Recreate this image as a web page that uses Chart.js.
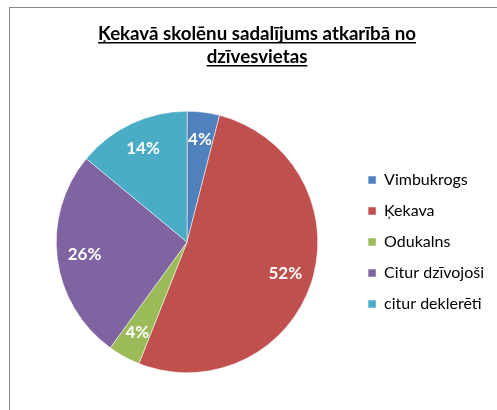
<!DOCTYPE html>
<html>
<head>
<meta charset="utf-8">
<script src="https://cdn.jsdelivr.net/npm/chart.js@4/dist/chart.umd.min.js"></script>
<style>
  html, body { margin: 0; padding: 0; background: #fff; }
  #wrap { width: 497px; height: 410px; position: relative; }
</style>
</head>
<body>
<div id="wrap"><canvas id="pieChart"></canvas></div>
<script>
const labels = ['Vimbukrogs', 'Ķekava', 'Odukalns', 'Citur dzīvojoši', 'citur deklerēti'];
const shares = [4, 52, 4, 26, 14];
const colors = ['#4F81BD', '#C0504D', '#9BBB59', '#8064A2', '#4BACC6'];
const titleLines = ['Ķekavā skolēnu sadalījums atkarībā no', 'dzīvesvietas'];

// frame + underlined title
const frame = {
    id: 'frame',
    beforeDraw(chart) {
        const c = chart.ctx;
        c.save();
        c.strokeStyle = '#868686';
        c.lineWidth = 1;
        c.strokeRect(9.5, 7.5, 600, 600);
        c.restore();
    },
    afterDraw(chart) {
        const c = chart.ctx;
        c.save();
        c.font = 'bold 18.7px Lato';
        c.fillStyle = '#000';
        c.textAlign = 'center';
        c.textBaseline = 'alphabetic';
        const ys = [40, 63];
        titleLines.forEach((t, i) => {
            c.fillText(t, 257, ys[i]);
            const w = c.measureText(t).width;
            c.fillRect(257 - w / 2, ys[i] + 2, w, 1.5);
        });
        c.restore();
    }
};

// percent labels inside slices
const sliceLabels = {
    id: 'sliceLabels',
    afterDatasetsDraw(chart) {
        const c = chart.ctx;
        const meta = chart.getDatasetMeta(0);
        c.save();
        c.font = 'bold 17px Lato';
        c.fillStyle = '#fff';
        c.textAlign = 'center';
        c.textBaseline = 'middle';
        meta.data.forEach((arc, i) => {
            const mid = (arc.startAngle + arc.endAngle) / 2;
            const r = arc.outerRadius * 0.79;
            c.fillText(shares[i] + '%', arc.x + Math.cos(mid) * r, arc.y + Math.sin(mid) * r);
        });
        c.restore();
    }
};

new Chart(document.getElementById('pieChart').getContext('2d'), {
    type: 'pie',
    data: {
        labels: labels,
        datasets: [{ data: shares, backgroundColor: colors, borderColor: '#fff', borderWidth: 0.5 }]
    },
    options: {
        responsive: true,
        maintainAspectRatio: false,
        animation: false,
        layout: { padding: { left: 21, top: 111, bottom: 37, right: 3 } },
        plugins: {
            tooltip: { enabled: false },
            legend: {
                position: 'right',
                labels: {
                    font: { family: 'Lato', size: 16 },
                    color: '#000',
                    boxWidth: 8,
                    boxHeight: 8,
                    padding: 15
                }
            }
        }
    },
    plugins: [frame, sliceLabels]
});
</script>
</body>
</html>
